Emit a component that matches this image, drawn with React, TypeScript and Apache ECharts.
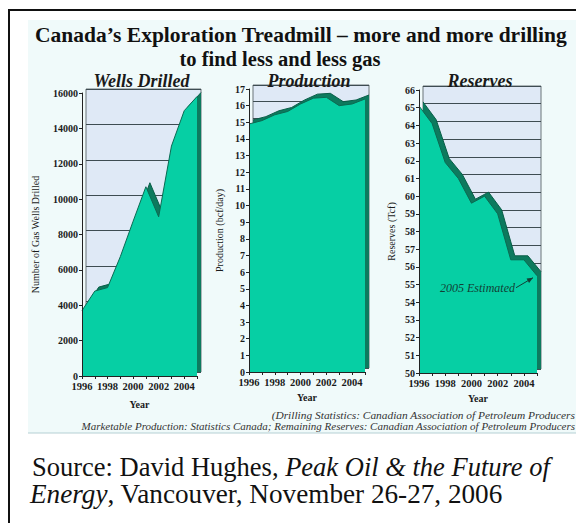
import React, { useEffect, useRef } from "react";
import * as echarts from "echarts";

const years = ["1996", "1997", "1998", "1999", "2000", "2001", "2002", "2003", "2004", "2005"];
const wellsDrilled = [3700, 4800, 5000, 6750, 8750, 10700, 9000, 13000, 15000, 15800];
const productionBcfDay = [14.9, 15.1, 15.45, 15.65, 16.1, 16.45, 16.5, 16.0, 16.1, 16.4];
const reservesTcf = [65.1, 64.1, 61.9, 61.0, 59.6, 60.0, 59.0, 56.4, 56.4, 55.5];

const titleLine1 = "Canada\u2019s Exploration Treadmill \u2013 more and more drilling";
const titleLine2 = "to find less and less gas";
const panelTitles = ["Wells Drilled", "Production", "Reserves"];
const yAxisNames = ["Number of Gas Wells Drilled", "Production (bcf/day)", "Reserves (Tcf)"];
const footnote1 = "(Drilling Statistics: Canadian Association of Petroleum Producers";
const footnote2 = "Marketable Production: Statistics Canada; Remaining Reserves: Canadian Association of Petroleum Producers";
const annotationText = "2005 Estimated";
// source lines: [text, italic?]
const sourceLine1: [string, boolean][] = [["Source: David Hughes, ", false], ["Peak Oil & the Future of", true]];
const sourceLine2: [string, boolean][] = [["Energy", true], [", Vancouver, November 26-27, 2006", false]];

const SERIF = "'Liberation Serif', 'Times New Roman', serif";
const TEAL = "#06cfa4";
const DARK = "#0d7a5e";
const DEPTH = 4;

const panels = [
  { data: wellsDrilled, min: 0, max: 16000, interval: 2000, left: 82, top: 93, width: 115, height: 283, nameGap: 42, xNameGap: 23 },
  { data: productionBcfDay, min: 0, max: 17, interval: 1, left: 249, top: 89, width: 116, height: 283, nameGap: 25, xNameGap: 19 },
  { data: reservesTcf, min: 50, max: 66, interval: 1, left: 419, top: 90, width: 118, height: 283, nameGap: 23, xNameGap: 19 },
];

function measure(text: string, font: string) {
  const c = document.createElement("canvas").getContext("2d");
  if (!c) return text.length * 10;
  c.font = font;
  return c.measureText(text).width;
}

function sourceElements(parts: [string, boolean][], x0: number, y: number, size: number, key: string) {
  let x = x0;
  return parts.map(([t, it], k) => {
    const font = `${it ? "italic " : ""}${size}px ${SERIF}`;
    const el = { id: `${key}${k}`, type: "text", z: 50, x, y, style: { text: t, font, fill: "#111", textAlign: "left", textVerticalAlign: "middle" } };
    x += measure(t, font);
    return el;
  });
}

function buildOption(extra: any[]) {
  const grid: any[] = [];
  const xAxis: any[] = [];
  const yAxis: any[] = [];
  const series: any[] = [];
  const labelStyle = { fontFamily: SERIF, fontWeight: "bold", fontSize: 10, color: "#1a1a1a" };
  panels.forEach((p, i) => {
    grid.push({
      left: p.left + DEPTH, top: p.top - DEPTH, width: p.width, height: p.height,
      show: true, backgroundColor: "#dfe9f6", borderColor: "#6a7478", borderWidth: 1, containLabel: false,
    });
    grid.push({ left: p.left, top: p.top, width: p.width, height: p.height, show: false, containLabel: false });
    const bi = 2 * i, fi = 2 * i + 1;
    xAxis.push({ gridIndex: bi, type: "category", boundaryGap: false, data: years, show: false });
    xAxis.push({
      gridIndex: fi, type: "category", boundaryGap: false, data: years, z: 10,
      axisLine: { show: true, lineStyle: { color: "#222", width: 1 } },
      axisTick: { show: true, interval: 0, length: 3, lineStyle: { color: "#222" } },
      axisLabel: { ...labelStyle, fontSize: 10.5, interval: 1, margin: 5 },
      splitLine: { show: false },
      name: "Year", nameLocation: "middle", nameGap: p.xNameGap,
      nameTextStyle: { ...labelStyle, fontSize: 10 },
    });
    yAxis.push({
      gridIndex: bi, type: "value", min: p.min, max: p.max, interval: p.interval, z: 1,
      axisLine: { show: false }, axisTick: { show: false }, axisLabel: { show: false },
      splitLine: { show: true, lineStyle: { color: "#3e4c52", width: 1.2 } },
    });
    yAxis.push({
      gridIndex: fi, type: "value", min: p.min, max: p.max, interval: p.interval, z: 10,
      axisLine: { show: true, lineStyle: { color: "#222", width: 1 } },
      axisTick: { show: true, length: 3, lineStyle: { color: "#222" } },
      axisLabel: { ...labelStyle, margin: 4, formatter: (v: number) => String(v) },
      splitLine: { show: false },
      name: yAxisNames[i], nameLocation: "middle", nameRotate: 90, nameGap: p.nameGap,
      nameTextStyle: { ...labelStyle, fontWeight: "normal", fontSize: 10 },
    });
    series.push({
      type: "line", xAxisIndex: bi, yAxisIndex: bi, data: p.data, symbol: "none", z: 2,
      lineStyle: { color: "#0a5e48", width: 1 }, areaStyle: { color: DARK, opacity: 1 },
    });
    series.push({
      type: "line", xAxisIndex: fi, yAxisIndex: fi, data: p.data, symbol: "none", z: 3,
      lineStyle: { color: "#0b6a52", width: 1 }, areaStyle: { color: TEAL, opacity: 1 },
    });
  });

  const graphic: any[] = [
    { id: "bg", type: "rect", z: -10, shape: { x: 28, y: 20, width: 560, height: 413 }, style: { fill: "#f0fafa" } },
    { id: "bgline", type: "line", z: -9, shape: { x1: 28, y1: 433, x2: 576, y2: 433 }, style: { stroke: "#b5d0d4", lineWidth: 1 } },
    { id: "frame", type: "rect", z: 50, shape: { x: 9, y: 10, width: 600, height: 540 }, style: { fill: "none", stroke: "#111", lineWidth: 2 } },
    { id: "t1", type: "text", z: 50, x: 35, y: 35, style: { text: titleLine1, font: `bold 21.5px ${SERIF}`, fill: "#111", textAlign: "left", textVerticalAlign: "middle" } },
    { id: "t2", type: "text", z: 50, x: 280, y: 59, style: { text: titleLine2, font: `bold 20.5px ${SERIF}`, fill: "#111", textAlign: "center", textVerticalAlign: "middle" } },
    { id: "f1", type: "text", z: 50, x: 575, y: 415, style: { text: footnote1, font: `italic 11.4px ${SERIF}`, fill: "#333", textAlign: "right", textVerticalAlign: "middle" } },
    { id: "f2", type: "text", z: 50, x: 575, y: 426, style: { text: footnote2, font: `italic 11px ${SERIF}`, fill: "#333", textAlign: "right", textVerticalAlign: "middle" } },
    ...sourceElements(sourceLine1, 32, 467, 26.5, "s1_"),
    ...sourceElements(sourceLine2, 30, 494, 27.2, "s2_"),
  ];
  panels.forEach((p, i) => {
    graphic.push({
      id: "pt" + i, type: "text", z: 50, x: p.left + p.width / 2 + DEPTH / 2, y: 81,
      style: { text: panelTitles[i], font: `italic bold 18px ${SERIF}`, fill: "#1a1a1a", textAlign: "center", textVerticalAlign: "middle" },
    });
  });

  return {
    animation: false,
    backgroundColor: "#ffffff",
    grid, xAxis, yAxis, series,
    graphic: { elements: [...graphic, ...extra] },
  };
}

export default function App() {
  const ref = useRef<HTMLDivElement>(null);
  useEffect(() => {
    if (!ref.current) return;
    const chart = echarts.init(ref.current, null, { renderer: "svg" });
    chart.setOption(buildOption([]));
    const last = years.length - 1;
    const pt = chart.convertToPixel({ xAxisIndex: 5, yAxisIndex: 5 }, [last, reservesTcf[last]]) as number[];
    const tip = [pt[0] - 4, pt[1] + 2];
    const tail = [tip[0] - 17, tip[1] + 10];
    const dx = tip[0] - tail[0], dy = tip[1] - tail[1];
    const len = Math.hypot(dx, dy);
    const ux = dx / len, uy = dy / len, nx = -uy, ny = ux;
    const head = [
      [tip[0], tip[1]],
      [tip[0] - 6 * ux + 2.5 * nx, tip[1] - 6 * uy + 2.5 * ny],
      [tip[0] - 6 * ux - 2.5 * nx, tip[1] - 6 * uy - 2.5 * ny],
    ];
    const extra = [
      { id: "arrowLine", type: "line", z: 60, shape: { x1: tail[0], y1: tail[1], x2: tip[0], y2: tip[1] }, style: { stroke: "#123f35", lineWidth: 1 } },
      { id: "arrowHead", type: "polygon", z: 60, shape: { points: head }, style: { fill: "#123f35" } },
      {
        id: "annot", type: "text", z: 60, x: tail[0] - 1, y: tail[1],
        style: { text: annotationText, font: `italic 12px ${SERIF}`, fill: "#123f35", textAlign: "right", textVerticalAlign: "middle" },
      },
    ];
    chart.setOption(buildOption(extra));
    return () => chart.dispose();
  }, []);
  return <div ref={ref} style={{ position: "fixed", left: 0, top: 0, width: 576, height: 523, background: "#fff" }} />;
}
